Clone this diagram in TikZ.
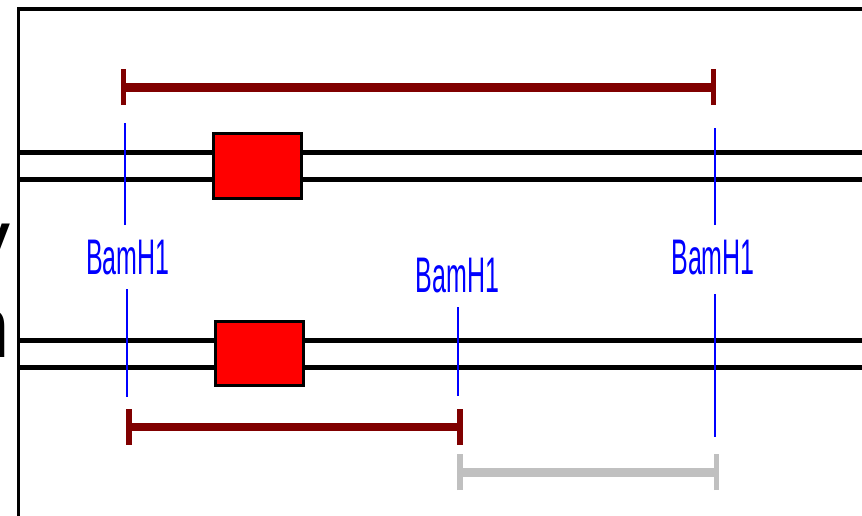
\documentclass[tikz,border=0pt]{standalone}
\usepackage{fontspec}
\setmainfont{Liberation Sans}
\definecolor{dred}{HTML}{800000}
\definecolor{lgray}{HTML}{C0C0C0}
\definecolor{cblue}{HTML}{0000FF}
\definecolor{bred}{HTML}{FF0000}
\begin{document}
\begin{tikzpicture}[x=1pt,y=-1pt,
  frameline/.style={line width=3.8pt, black},
  dna/.style={line width=5pt, black},
  gene/.style={draw=black, line width=3pt, fill=bred},
  site/.style={draw=cblue, line width=2pt},
  lbl/.style={text=cblue, inner sep=0pt, font=\fontsize{50}{50}\selectfont},
  fragbar/.style={line width=8.5pt},
  fragtick/.style={line width=5.5pt},
  edge/.style={inner sep=0pt, anchor=base east, font=\fontsize{88}{88}\selectfont}]
\useasboundingbox (0,0) rectangle (862,515);
\clip (0,0) rectangle (862,515);
% clipped labels at left edge
\node[edge] (ly) at (11,270) {y};
\node[edge] (ln) at (11,357) {n};
% frame
\coordinate (fc) at (18.5,9);
\coordinate (fr) at (880,9);
\coordinate (fb) at (18.5,530);
\draw[frameline] (fb) -- (fc) -- (fr);
% DNA lines
\coordinate (a1) at (18.5,152.5); \coordinate (a2) at (880,152.5);
\coordinate (b1) at (18.5,179.5); \coordinate (b2) at (880,179.5);
\coordinate (c1) at (18.5,340);   \coordinate (c2) at (880,340);
\coordinate (d1) at (18.5,367);   \coordinate (d2) at (880,367);
\draw[dna] (a1) -- (a2);
\draw[dna] (b1) -- (b2);
\draw[dna] (c1) -- (c2);
\draw[dna] (d1) -- (d2);
% genes
\node[gene, minimum width=88pt, minimum height=64.5pt] (g1) at (257.5,165.8) {};
\node[gene, minimum width=88pt, minimum height=64.5pt] (g2) at (259.5,353.5) {};
% BamH1 labels
\node[lbl] (s1) at (128,258) {\scalebox{0.5}[1]{BamH1}};
\node[lbl] (s2) at (457.5,275.5) {\scalebox{0.5}[1]{BamH1}};
\node[lbl] (s3) at (713,258) {\scalebox{0.5}[1]{BamH1}};
% cut site lines
\coordinate (p1) at (125,123); \coordinate (p2) at (125,225);
\coordinate (q1) at (127,289); \coordinate (q2) at (127,397);
\coordinate (m1) at (458,307); \coordinate (m2) at (458,396);
\coordinate (r1) at (715,128); \coordinate (r2) at (715,225);
\coordinate (t1) at (715,294); \coordinate (t2) at (715,437);
\draw[site] (p1) -- (p2);
\draw[site] (q1) -- (q2);
\draw[site] (m1) -- (m2);
\draw[site] (r1) -- (r2);
\draw[site] (t1) -- (t2);
% top fragment
\coordinate (u1) at (123.5,87.5); \coordinate (u2) at (713.5,87.5);
\draw[dred, fragbar] (u1) -- (u2);
\draw[dred, fragtick] ([yshift=-17.5pt]u1) -- ([yshift=18.5pt]u1);
\draw[dred, fragtick] ([yshift=-17.5pt]u2) -- ([yshift=18.5pt]u2);
% bottom red fragment
\coordinate (v1) at (129,427); \coordinate (v2) at (460,427);
\draw[dred, fragbar] (v1) -- (v2);
\draw[dred, fragtick] ([yshift=-17.5pt]v1) -- ([yshift=18.5pt]v1);
\draw[dred, fragtick] ([yshift=-17.5pt]v2) -- ([yshift=18.5pt]v2);
% gray fragment
\coordinate (w1) at (460,472.5); \coordinate (w2) at (716.5,472.5);
\draw[lgray, fragbar] (w1) -- (w2);
\draw[lgray, fragtick] ([yshift=-17.5pt]w1) -- ([yshift=18.5pt]w1);
\draw[lgray, fragtick] ([yshift=-17.5pt]w2) -- ([yshift=18.5pt]w2);
\end{tikzpicture}
\end{document}
